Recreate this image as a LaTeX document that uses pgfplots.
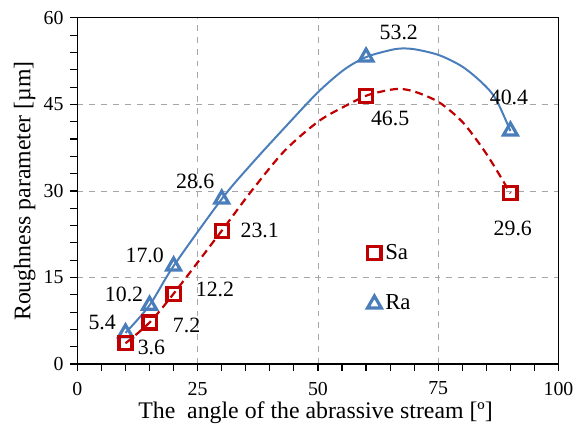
\documentclass[border=0pt]{standalone}
\usepackage{fontspec}
\setmainfont{Liberation Serif}
\usepackage{pgfplots}
\pgfplotsset{compat=1.18}
\definecolor{rablue}{RGB}{74,126,187}
\definecolor{sared}{RGB}{192,0,0}

\begin{document}
\begin{tikzpicture}
\begin{axis}[
  scale only axis,
  width=242.5pt, height=174.5pt,
  xmin=0, xmax=100, ymin=0, ymax=60,
  xtick={0,25,50,75,100},
  ytick={0,15,30,45,60},
  minor x tick num=4,
  minor y tick num=4,
  tick align=outside,
  tick pos=left,
  major tick length=3.5pt,
  minor tick length=3.5pt,
  every tick/.style={black, line width=0.6pt},
  grid=major,
  major grid style={gray!70, dashed, line width=0.4pt},
  axis line style={black, line width=0.6pt},
  tick label style={font=\fontsize{10}{12}\selectfont},
  xticklabel style={yshift=-2pt},
  /pgf/number format/assume math mode=true,
  xlabel={The~\ angle of the abrassive stream [º]},
  ylabel={Roughness parameter [µm]},
  xlabel style={font=\fontsize{12}{14}\selectfont, at={(axis description cs:0.495,-0.139)}, anchor=center},
  ylabel style={font=\fontsize{12}{14}\selectfont, at={(axis description cs:-0.1093,0.5)}, anchor=center},
  legend style={draw=none, fill=none, at={(axis description cs:0.652,0.247)},
    anchor=center, font=\fontsize{11.5}{13}\selectfont, row sep=12.5pt},
  legend cell align=left,
  clip=false,
]
\addplot[rablue, line width=1pt, smooth, tension=0.5, forget plot]
  coordinates {(10,5.4) (15,10.2) (20,17.0) (30,28.6) (36,34.5) (43,40.9)
    (50,47.1) (55.4,51.0) (60,53.2) (65,54.4) (67.5,54.7) (70.5,54.5)
    (75.3,53.5) (80.1,51.5) (84.3,48.6) (87,45.9) (90,40.4)};
% Sa line
\addplot[sared, line width=1.1pt, dash pattern=on 4pt off 2.5pt, smooth, tension=0.5, forget plot]
  coordinates {(10,3.6) (15,7.2) (20,12.2) (30,23.1) (36.1,29.9) (43,36.9)
    (50,42.0) (55.4,44.6) (60,46.5) (63.6,47.3) (67,47.7) (70.5,47.1)
    (75.3,45.3) (80.1,41.9) (84.3,37.3) (87,33.8) (90,29.6)};
% Ra points
\addplot[only marks, rablue, mark=triangle, mark size=4pt, mark options={solid, line width=1.6pt}, forget plot]
  coordinates {(10,5.4) (15,10.2) (20,17.0) (30,28.6) (60,53.2) (90,40.4)};
% Sa points
\addplot[only marks, sared, mark=square, mark size=3.3pt, mark options={solid, line width=1.6pt}, forget plot]
  coordinates {(10,3.6) (15,7.2) (20,12.2) (30,23.1) (60,46.5) (90,29.6)};

\addlegendimage{only marks, sared, mark=square, mark size=3.3pt, mark options={solid, line width=1.6pt}}
\addlegendentry{Sa}
\addlegendimage{only marks, rablue, mark=triangle, mark size=4pt, mark options={solid, line width=1.6pt}}
\addlegendentry{Ra}

% data labels
\begin{scope}[every node/.style={font=\fontsize{11}{13}\selectfont, anchor=center}]
\node at (axis cs:5.15,7.2) {5.4};
\node at (axis cs:9.7,12.0) {10.2};
\node at (axis cs:14.0,18.9) {17.0};
\node at (axis cs:24.5,31.6) {28.6};
\node at (axis cs:66.8,57.4) {53.2};
\node at (axis cs:89.7,46.2) {40.4};
\node at (axis cs:15.4,2.9) {3.6};
\node at (axis cs:22.7,6.7) {7.2};
\node at (axis cs:28.6,12.9) {12.2};
\node at (axis cs:37.9,23.2) {23.1};
\node at (axis cs:65.0,42.6) {46.5};
\node at (axis cs:90.5,23.5) {29.6};
\end{scope}
\end{axis}
\path[use as bounding box] (-39pt,-31.5pt) rectangle (251pt,183.5pt);
\end{tikzpicture}
\end{document}
